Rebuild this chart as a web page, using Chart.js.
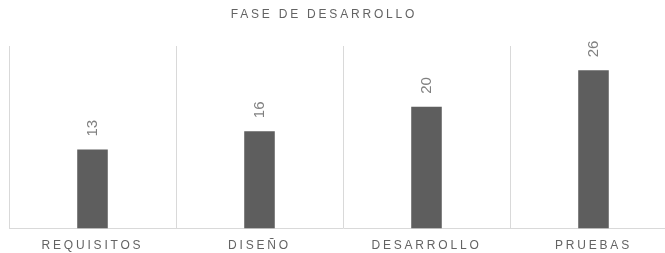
<!DOCTYPE html>
<html>
<head>
<meta charset="utf-8">
<script src="https://cdn.jsdelivr.net/npm/chart.js@4/dist/chart.umd.min.js"></script>
<style>
    html, body { margin: 0; padding: 0; background: #fff; overflow: hidden; }
    #wrap { width: 690px; height: 263px; }
</style>
</head>
<body>
<div id="wrap"><canvas id="faseChart"></canvas></div>
<script>
const chartTitle = "FASE DE DESARROLLO";
const categories = ["REQUISITOS", "DISEÑO", "DESARROLLO", "PRUEBAS"];
const values = [13, 16, 20, 26];
const yMax = 30;

const fontFamily = "'Liberation Sans', Arial, sans-serif";
const textColor = "#636363";

// letter spacing for axis labels + title (Excel style)
const spacingPlugin = {
    id: "spacing",
    beforeDraw(chart) { chart.ctx.letterSpacing = "2.8px"; },
    afterDraw(chart) { chart.ctx.letterSpacing = "0px"; }
};

const titlePlugin = {
    id: "customTitle",
    afterDraw(chart) {
        const ctx = chart.ctx;
        ctx.save();
        ctx.font = "12px " + fontFamily;
        ctx.letterSpacing = "2.8px";
        ctx.fillStyle = textColor;
        ctx.textBaseline = "middle";
        ctx.textAlign = "left";
        const w = ctx.measureText(chartTitle).width - 2.8;
        ctx.fillText(chartTitle, 322.5 - w / 2, 15);
        ctx.restore();
    }
};

const valueLabels = {
    id: "valueLabels",
    afterDatasetsDraw(chart) {
        const ctx = chart.ctx;
        const meta = chart.getDatasetMeta(0);
        ctx.save();
        ctx.font = "15px " + fontFamily;
        ctx.letterSpacing = "0px";
        ctx.fillStyle = "#808080";
        ctx.textAlign = "left";
        ctx.textBaseline = "middle";
        meta.data.forEach((bar, i) => {
            ctx.save();
            ctx.translate(bar.x, bar.y - 13);
            ctx.rotate(-Math.PI / 2);
            ctx.fillText(String(values[i]), 0, 0);
            ctx.restore();
        });
        ctx.restore();
    }
};

new Chart(document.getElementById("faseChart"), {
    type: "bar",
    data: {
        labels: categories,
        datasets: [{
            data: values,
            backgroundColor: "#5e5e5e",
            barPercentage: 0.183,
            categoryPercentage: 1
        }]
    },
    options: {
        responsive: true,
        maintainAspectRatio: false,
        animation: false,
        layout: { padding: { left: 9, right: 13, top: 46, bottom: 0 } },
        plugins: {
            legend: { display: false },
            title: { display: false },
            tooltip: { enabled: false }
        },
        scales: {
            x: {
                grid: { offset: true, color: "#d9d9d9", drawTicks: false },
                border: { color: "#d9d9d9" },
                ticks: {
                    color: textColor,
                    font: { family: fontFamily, size: 12 },
                    padding: 10,
                    maxRotation: 0
                }
            },
            y: {
                display: false,
                min: 0,
                max: yMax
            }
        }
    },
    plugins: [spacingPlugin, titlePlugin, valueLabels]
});
</script>
</body>
</html>
